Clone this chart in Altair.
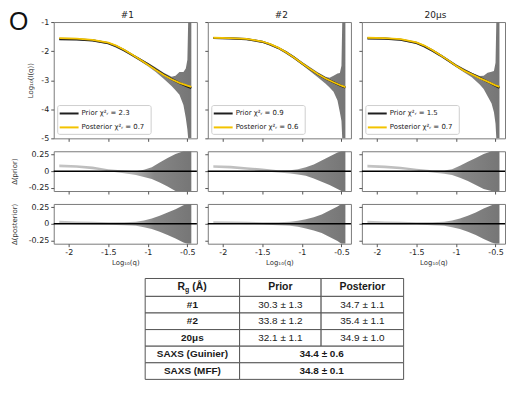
import altair as alt
import pandas as pd

# ---------------- data ----------------
panel_titles = ["#1", "#2", "20μs"]
prior_chi2 = ["2.3", "0.9", "1.5"]
posterior_chi2 = ["0.7", "0.6", "0.7"]
panel_letter = "O"

# fitted curves, log10 I(q)
q_fit = [-2.12, -1.9, -1.7, -1.5, -1.4, -1.3, -1.2, -1.1, -1.0, -0.9, -0.8, -0.7, -0.6, -0.5, -0.45]
prior_fit = [
    [-1.59, -1.60, -1.63, -1.73, -1.83, -1.97, -2.13, -2.29, -2.45, -2.63, -2.80, -2.96, -3.10, -3.22, -3.27],
    [-1.55, -1.56, -1.59, -1.68, -1.77, -1.89, -2.04, -2.22, -2.42, -2.61, -2.79, -2.94, -3.07, -3.20, -3.25],
    [-1.56, -1.57, -1.61, -1.72, -1.83, -1.98, -2.14, -2.32, -2.50, -2.66, -2.79, -2.92, -3.05, -3.19, -3.26],
]
posterior_fit = [
    [-1.55, -1.57, -1.61, -1.71, -1.81, -1.95, -2.12, -2.29, -2.47, -2.65, -2.82, -2.97, -3.09, -3.19, -3.23],
    [-1.54, -1.55, -1.58, -1.67, -1.76, -1.88, -2.04, -2.22, -2.42, -2.61, -2.79, -2.94, -3.07, -3.19, -3.24],
    [-1.54, -1.55, -1.59, -1.70, -1.81, -1.96, -2.13, -2.31, -2.50, -2.67, -2.80, -2.93, -3.05, -3.18, -3.23],
]

# experimental data envelope (points +/- error bars), log10 I(q)
q_data = [-2.12, -1.9, -1.7, -1.5, -1.3, -1.1, -1.0, -0.9, -0.8, -0.7, -0.65, -0.6, -0.55, -0.52, -0.5, -0.49, -0.45]
data_low = [
    [-1.62, -1.63, -1.66, -1.76, -2.01, -2.34, -2.52, -2.72, -2.95, -3.20, -3.35, -3.50, -3.85, -4.30, -4.70, -5.0, -5.0],
    [-1.58, -1.59, -1.62, -1.71, -1.93, -2.26, -2.47, -2.68, -2.90, -3.12, -3.25, -3.40, -3.70, -4.10, -4.40, -5.0, -5.0],
    [-1.59, -1.60, -1.64, -1.75, -2.02, -2.36, -2.55, -2.73, -2.90, -3.15, -3.30, -3.55, -3.80, -4.10, -4.50, -5.0, -5.0],
]
data_high = [
    [-1.53, -1.55, -1.59, -1.69, -1.93, -2.25, -2.40, -2.56, -2.74, -2.88, -2.85, -2.72, -2.72, -2.60, -2.30, -1.0, -1.0],
    [-1.52, -1.53, -1.56, -1.65, -1.86, -2.18, -2.37, -2.55, -2.73, -2.88, -2.92, -2.85, -2.77, -2.75, -2.50, -1.0, -1.0],
    [-1.52, -1.53, -1.57, -1.67, -1.93, -2.27, -2.45, -2.60, -2.74, -2.86, -2.85, -2.74, -2.71, -2.68, -2.40, -1.0, -1.0],
]

# residual envelopes
q_res = [-2.12, -1.9, -1.7, -1.5, -1.3, -1.15, -1.05, -0.95, -0.85, -0.75, -0.65, -0.55, -0.5, -0.45]
res_prior_low = [
    [0.06, 0.05, 0.03, 0.0, -0.03, -0.06, -0.09, -0.12, -0.17, -0.23, -0.30, -0.30, -0.30, -0.30],
    [0.05, 0.04, 0.02, 0.0, -0.02, -0.035, -0.05, -0.07, -0.11, -0.16, -0.21, -0.27, -0.30, -0.30],
    [0.055, 0.045, 0.03, 0.005, -0.02, -0.04, -0.06, -0.10, -0.15, -0.21, -0.27, -0.30, -0.30, -0.30],
]
res_prior_high = [
    [0.10, 0.09, 0.07, 0.03, 0.01, 0.0, 0.02, 0.06, 0.13, 0.20, 0.26, 0.30, 0.30, 0.30],
    [0.09, 0.08, 0.06, 0.04, 0.015, 0.015, 0.03, 0.06, 0.10, 0.16, 0.22, 0.28, 0.30, 0.30],
    [0.095, 0.085, 0.065, 0.035, 0.015, 0.01, 0.03, 0.08, 0.14, 0.20, 0.26, 0.30, 0.30, 0.30],
]
res_post_low = [
    [0.0, -0.005, -0.01, -0.015, -0.02, -0.03, -0.05, -0.08, -0.12, -0.17, -0.22, -0.28, -0.30, -0.30],
    [0.0, 0.0, -0.005, -0.01, -0.02, -0.03, -0.045, -0.07, -0.10, -0.14, -0.20, -0.26, -0.30, -0.30],
    [0.0, -0.005, -0.01, -0.01, -0.02, -0.03, -0.05, -0.08, -0.12, -0.17, -0.23, -0.28, -0.30, -0.30],
]
res_post_high = [
    [0.045, 0.035, 0.03, 0.025, 0.025, 0.03, 0.05, 0.08, 0.12, 0.17, 0.22, 0.28, 0.30, 0.30],
    [0.04, 0.035, 0.03, 0.025, 0.025, 0.03, 0.045, 0.07, 0.10, 0.14, 0.20, 0.26, 0.30, 0.30],
    [0.045, 0.035, 0.03, 0.025, 0.025, 0.03, 0.05, 0.08, 0.12, 0.17, 0.23, 0.28, 0.30, 0.30],
]

# table
table_header = ["Prior", "Posterior"]
table_rows = ["#1", "#2", "20μs"]
table_prior = ["30.3 ± 1.3", "33.8 ± 1.2", "32.1 ± 1.1"]
table_posterior = ["34.7 ± 1.1", "35.4 ± 1.1", "34.9 ± 1.0"]
saxs_rows = ["SAXS (Guinier)", "SAXS (MFF)"]
saxs_values = ["34.4 ± 0.6", "34.8 ± 0.1"]

# ---------------- layout / style ----------------
W, H_TOP, H_RES = 144, 117, 40
X_DOMAIN = [-2.19, -0.38]
X_TICKS = [-2, -1.5, -1, -0.5]
Y_TOP_TICKS = [-1, -2, -3, -4, -5]
Y_RES_TICKS = [0.25, 0, -0.25]
FONT = "DejaVu Sans"
TFONT = "Liberation Sans"
PRIOR_COLOR = "#1e1e1e"
POST_COLOR = "#f3c300"

band_fill = {
    "gradient": "linear", "x1": 0, "x2": 1, "y1": 0, "y2": 0,
    "stops": [
        {"offset": 0.0, "color": "#c4c4c4"},
        {"offset": 0.55, "color": "#b4b4b4"},
        {"offset": 0.72, "color": "#868686"},
        {"offset": 1.0, "color": "#767676"},
    ],
}

xscale = alt.Scale(domain=X_DOMAIN, nice=False, zero=False)


def axis_common():
    return dict(domain=False, grid=False, ticks=True, tickSize=3, tickColor="#555",
                labelFont=FONT, labelFontSize=8, labelColor="#222", labelPadding=2,
                labelExpr="'' + datum.value", titleFont=FONT, titleFontSize=7,
                titleFontWeight="normal", titleColor="#333")


def x_axis(show):
    kw = axis_common()
    kw.update(values=X_TICKS, labels=show, titlePadding=2)
    kw["title"] = "Log₁₀(q)" if show else ""
    return alt.Axis(**kw)


def y_axis(values, show, title, pad):
    kw = axis_common()
    kw.update(values=values, labels=show, titlePadding=pad)
    kw["title"] = title if show else ""
    return alt.Axis(**kw)


def top_panel(i):
    band = pd.DataFrame({"q": q_data, "lo": data_low[i], "hi": data_high[i]})
    fit = pd.DataFrame({"q": q_fit, "prior": prior_fit[i], "posterior": posterior_fit[i]})
    yscale = alt.Scale(domain=[-5, -1], nice=False, zero=False)
    xa = x_axis(False)
    ya = y_axis(Y_TOP_TICKS, i == 0, "Log₁₀(I(q))", 7)

    area = alt.Chart(band).mark_area(fill=band_fill, clip=True).encode(
        x=alt.X("q:Q", scale=xscale, axis=xa),
        y=alt.Y("lo:Q", scale=yscale, axis=ya),
        y2="hi:Q",
    )
    prior = alt.Chart(fit).mark_line(color=PRIOR_COLOR, strokeWidth=2.2, clip=True).encode(
        x=alt.X("q:Q", scale=xscale, axis=xa),
        y=alt.Y("prior:Q", scale=yscale, axis=ya),
    )
    post = alt.Chart(fit).mark_line(color=POST_COLOR, strokeWidth=1.8, clip=True).encode(
        x=alt.X("q:Q", scale=xscale, axis=xa),
        y=alt.Y("posterior:Q", scale=yscale, axis=ya),
    )

    labels = pd.DataFrame({"label": ["Prior χ²ᵣ = " + prior_chi2[i]]})
    labels2 = pd.DataFrame({"label": ["Posterior χ²ᵣ = " + posterior_chi2[i]]})
    box = alt.Chart(pd.DataFrame({"k": [0]})).mark_rect(
        fill="white", fillOpacity=0.85, stroke="#cfcfcf", strokeWidth=1, cornerRadius=2
    ).encode(x=alt.value(4), x2=alt.value(98), y=alt.value(84), y2=alt.value(113))
    l1 = alt.Chart(labels).mark_rule(color=PRIOR_COLOR, strokeWidth=2).encode(
        x=alt.value(6), x2=alt.value(25), y=alt.value(92))
    l2 = alt.Chart(labels2).mark_rule(color=POST_COLOR, strokeWidth=2).encode(
        x=alt.value(6), x2=alt.value(25), y=alt.value(106))
    t1 = alt.Chart(labels).mark_text(align="left", baseline="middle", font=FONT, fontSize=7,
                                     color="#222").encode(x=alt.value(28), y=alt.value(92), text="label:N")
    t2 = alt.Chart(labels2).mark_text(align="left", baseline="middle", font=FONT, fontSize=7,
                                      color="#222").encode(x=alt.value(28), y=alt.value(106), text="label:N")
    head = alt.Chart(pd.DataFrame({"t": [panel_titles[i]]})).mark_text(
        align="center", baseline="middle", font=FONT, fontSize=9, color="#222"
    ).encode(x=alt.value(W / 2 + 2), y=alt.value(-7.5), text="t:N")
    layers = [area, prior, post, box, l1, l2, t1, t2, head]
    if i == 0:
        layers.append(
            alt.Chart(pd.DataFrame({"t": [panel_letter]})).mark_text(
                align="left", baseline="top", font=TFONT, fontSize=25, color="#111"
            ).encode(x=alt.value(-45), y=alt.value(-12), text="t:N")
        )
    return alt.layer(*layers).properties(width=W, height=H_TOP)


def res_panel(i, low, high, title, bottom):
    band = pd.DataFrame({"q": q_res, "lo": low[i], "hi": high[i]})
    yscale = alt.Scale(domain=[-0.3, 0.3], nice=False, zero=False)
    xa = x_axis(bottom)
    ya = y_axis(Y_RES_TICKS, i == 0, title, 11)
    area = alt.Chart(band).mark_area(fill=band_fill, clip=True).encode(
        x=alt.X("q:Q", scale=xscale, axis=xa),
        y=alt.Y("lo:Q", scale=yscale, axis=ya),
        y2="hi:Q",
    )
    zero = alt.Chart(pd.DataFrame({"z": [0.0]})).mark_rule(color="#000", strokeWidth=1.5).encode(
        y=alt.Y("z:Q", scale=yscale, axis=ya))
    return alt.layer(area, zero).properties(width=W, height=H_RES)


panels = [top_panel(i) for i in range(3)]
panels += [res_panel(i, res_prior_low, res_prior_high, "Δ(prior)", False) for i in range(3)]
panels += [res_panel(i, res_post_low, res_post_high, "Δ(posterior)", True) for i in range(3)]

grid = alt.concat(*panels, columns=3, spacing={"row": 13, "column": 11}, bounds="flush")

# ---------------- table ----------------
TW, TH = 455, 102
col_edges = [92, 187, 269, 352]
row_edges = [0, 18, 34.7, 51.4, 68.1, 84.8, 101.5]


def cx(a, b):
    return (col_edges[a] + col_edges[b]) / 2


def cy(r):
    return (row_edges[r] + row_edges[r + 1]) / 2


cells = []
for r in range(6):
    spans = [(0, 1), (1, 2), (2, 3)] if r <= 3 else [(0, 1), (1, 3)]
    for a, b in spans:
        cells.append({"x": col_edges[a], "x2": col_edges[b], "y": row_edges[r], "y2": row_edges[r + 1]})
cells = pd.DataFrame(cells)

bold, normal = [], []
bold.append({"text": table_header[0], "x": cx(1, 2), "y": cy(0), "fs": 10.5})
bold.append({"text": table_header[1], "x": cx(2, 3), "y": cy(0), "fs": 10.5})
for k in range(3):
    bold.append({"text": table_rows[k], "x": cx(0, 1), "y": cy(k + 1), "fs": 10})
    normal.append({"text": table_prior[k], "x": cx(1, 2), "y": cy(k + 1), "fs": 10})
    normal.append({"text": table_posterior[k], "x": cx(2, 3), "y": cy(k + 1), "fs": 10})
for k in range(2):
    bold.append({"text": saxs_rows[k], "x": cx(0, 1), "y": cy(k + 4), "fs": 10})
    bold.append({"text": saxs_values[k], "x": cx(1, 3), "y": cy(k + 4), "fs": 10})
bold = pd.DataFrame(bold)
normal = pd.DataFrame(normal)
rg_start = cx(0, 1) - 15
rg = pd.DataFrame({
    "text": ["R", "g", "(Å)"],
    "x": [rg_start, rg_start + 7.6, rg_start + 14.8],
    "y": [cy(0), cy(0) + 3, cy(0)],
    "fs": [10.5, 7, 10.5],
})

tx = alt.Scale(domain=[0, TW], nice=False, zero=False)
ty = alt.Scale(domain=[0, TH], nice=False, zero=False, reverse=True)

cell_layer = alt.Chart(cells).mark_rect(fill="white", stroke="#555", strokeWidth=1).encode(
    x=alt.X("x:Q", scale=tx, axis=None), x2="x2:Q",
    y=alt.Y("y:Q", scale=ty, axis=None), y2="y2:Q",
)


def text_layer(df, weight, align="center"):
    return alt.Chart(df).mark_text(font=TFONT, fontWeight=weight, color="#1a1a1a",
                                   align=align, baseline="middle").encode(
        x=alt.X("x:Q", scale=tx, axis=None),
        y=alt.Y("y:Q", scale=ty, axis=None),
        text="text:N",
        size=alt.Size("fs:Q", scale=None, legend=None),
    )


table = alt.layer(
    cell_layer, text_layer(bold, "bold"), text_layer(normal, "normal"), text_layer(rg, "bold", "left")
).properties(width=TW, height=TH, view=alt.ViewBackground(strokeOpacity=0))

chart = alt.vconcat(grid, table, spacing=11).properties(padding=0).configure_view(
    stroke="#7a7a7a", strokeWidth=1
)

chart.save("out.html", embed_options={"renderer": "svg", "actions": False})
